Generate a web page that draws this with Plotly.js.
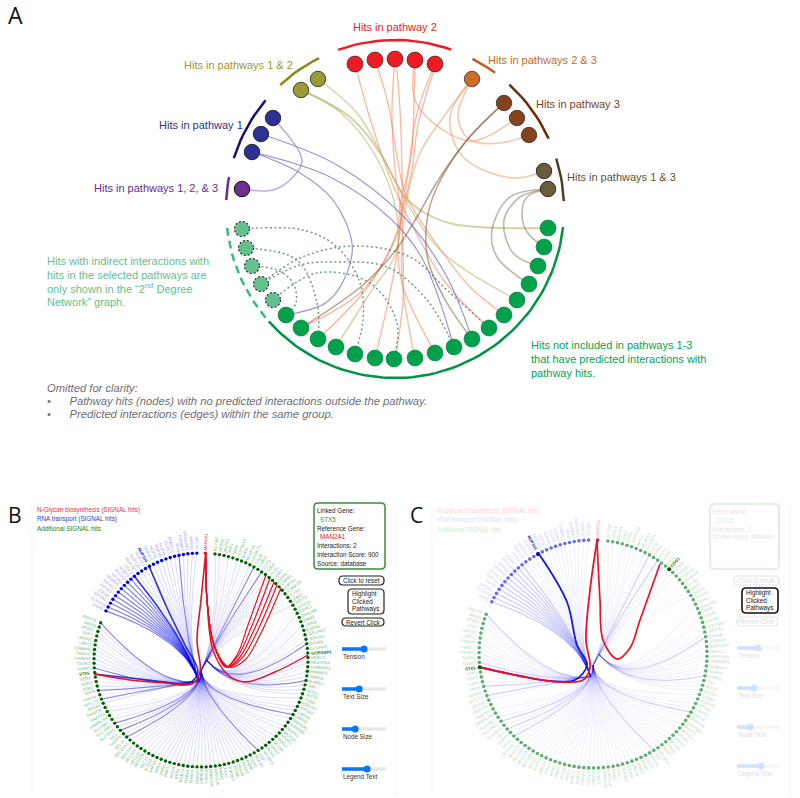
<!DOCTYPE html>
<html><head><meta charset="utf-8">
<script src="https://cdn.plot.ly/plotly-3.0.1.min.js"></script>
<style>html,body{margin:0;padding:0;background:#fff}#c{width:800px;height:798px}</style>
</head><body><div id="c"></div>
<script>
// ---------- Panel A : nodes ----------
const redNodes=[[355,64],[375,60],[395,59],[415,60],[435,64]];
const oliveNodes=[[301,90],[318,79]];
const blueNodes=[[273,118],[261,134],[252,152]];
const purpleNodes=[[242,189]];
const orangeNodes=[[472,79]];
const brownNodes=[[504,103],[517,118],[529,135]];
const tanNodes=[[544,171],[548,189]];
const greenNodes=[[548,228],[544,247],[538,266],[529,284],[517,300],[504,315],[489,328],[472,339],[454,347],[435,353],[415,358],[394,359],[375,358],[355,354],[336,347],[318,339],[301,328],[286,315]];
const lightNodes=[[273,300],[261,284],[252,266],[246,248],[242,229]];
// ---------- Panel A : edges, waypoints ----------
const orangeEdges=[
 [[355,64],[372,125],[395,190],[412,225],[445,282],[489,328]],
 [[375,60],[388,103],[396,150],[406,195],[443,253],[470,287],[504,315]],
 [[395,59],[392,110],[395,170],[401,215],[397,253],[390,293],[375,358]],
 [[396,59],[400,110],[402,170],[402,215],[403,300],[395,359]],
 [[415,60],[414,100],[412,150],[403,205],[398,253],[403,287],[435,353]],
 [[435,64],[417,113],[408,170],[400,205],[397,232],[363,290],[301,328]],
 [[436,64],[418,125],[412,170],[404,205],[396,237],[367,288],[318,339]],
 [[415,60],[415,100],[443,130],[473,141],[517,118]]
];
const peachEdges=[
 [[472,79],[445,115],[420,153],[406,205],[402,277],[415,358]],
 [[472,79],[458,117],[470,140],[500,143],[529,135]],
 [[472,79],[450,117],[463,157],[513,178],[544,171]]
];
const oliveEdges=[
 [[301,90],[350,117],[380,153],[405,197],[425,213],[453,224],[500,228],[548,228]],
 [[318,79],[357,113],[383,157],[408,205],[443,253],[517,300]],
 [[301,90],[340,112],[375,155],[396,210],[396,253],[370,293],[336,347]]
];
const blueEdges=[
 [[261,134],[337,165],[405,218],[447,277],[472,339]],
 [[252,152],[330,177],[392,220],[423,260],[454,347]],
 [[252,152],[300,173],[333,200],[352,243],[347,273],[327,302],[286,315]]
];
const brownEdges=[
 [[504,103],[467,140],[437,182],[417,217],[395,251],[363,285],[301,328]],
 [[504,103],[467,140],[437,187],[427,220],[428,260],[447,303],[472,339]]
];
const tanEdges=[
 [[548,189],[527,197],[522,215],[527,232],[544,247]],
 [[548,189],[520,197],[504,220],[513,253],[538,266]],
 [[548,189],[510,197],[492,230],[497,257],[529,284]]
];
const purpleEdges=[[[273,118],[302,160],[293,177],[273,190],[242,189]]];
const dottedEdges=[
 [[242,229],[303,230],[337,247],[360,283],[363,320],[355,354]],
 [[246,248],[297,260],[317,303],[318,339]],
 [[252,266],[277,270],[293,283],[296,303],[286,315]],
 [[261,284],[300,258],[353,246],[410,257],[447,290],[489,328]],
 [[273,300],[317,273],[370,283],[397,323],[394,359]],
 [[261,284],[300,265],[333,262],[387,267],[427,300],[454,347]]
];
// group arcs: bearing start, bearing end (deg clockwise from north), colour, dash
const arcCentre=[395,209];
const arcRadius=169;
const arcStart=[-19.7,27.3,42.6,72.6,96.1,230,273,287.5,317.2];
const arcEnd=[19.4,36.3,65.4,87.3,228.3,264.9,280.9,310,333.3];
const arcColor=['#ee1c25','#c25a1c','#6e2c0c','#4f3f22','#009444','#3dbb7f','#662d91','#10107f','#8b8b14'];
const arcDash=['solid','solid','solid','solid','solid','dash','solid','solid','solid'];

const labelsA=[
 ['Hits in pathway 2',352,27,'#ec1c24'],['Hits in pathways 1 & 2',183,65,'#9a9a2e'],
 ['Hits in pathway 1',158,125,'#2e3192'],['Hits in pathways 1, 2, & 3',93,188,'#662d91'],
 ['Hits in pathways 2 & 3',487,60,'#c9682a'],['Hits in pathway 3',535,104,'#7b3f1e'],
 ['Hits in pathways 1 & 3',566,177,'#5f5237'],
 ['Hits with indirect interactions with',46,261,'#5fbf8f'],['hits in the selected pathways are',46,275,'#5fbf8f'],
 ['only shown in the “2<sup>nd</sup> Degree',46,288,'#5fbf8f'],['Network” graph.',46,302,'#5fbf8f'],
 ['Hits not included in pathways 1-3',530,345,'#00a651'],['that have predicted interactions with',530,359,'#00a651'],
 ['pathway hits.',530,373,'#00a651']
];
const GAP='\u00a0\u00a0\u00a0\u00a0\u00a0\u00a0';
const notesA=[
 ['<i>Omitted for clarity:</i>',46,388,'#6d6e71'],
 ['•'+GAP+'<i>Pathway hits (nodes) with no predicted interactions outside the pathway.</i>',46,401,'#6d6e71'],
 ['•'+GAP+'<i>Predicted interactions (edges) within the same group.</i>',46,414,'#6d6e71']
];

// ---------- Panels B and C : genes ----------
const redGene=['MAN2A1'];
const blueGenes=['AAAS','CLNS1A','EIF2B1','EIF3A','EIF4A1','EIF4G1','GEMIN5','KPNB1','MAGOH','NCBP1','NDC1','NUP107','NUP133','NUP153','NUP155','NUP205','NUP62','NUP85','NUP88','NUP93','PABPC1','RAN','RANBP2','RANGAP1','RPP30','SEC13'];
const greenGenes=['ACTR2','AP2A1','ARCN1','ARF1','ATF6','ATP6V1A','BAG6','BCAP31','C1GALT1','CALR','CANX','CCT2','CD59','CLTC','COG1','COPA','COPB1','COPG1','CSNK2B','CTSA','DAD1','DDIT3','DDX3X','DERL1','DNAJB9','DNM2','DPM3','EDEM1','EIF2AK3','ERLIN1','GANAB','GOLPH3','GORASP2','HDAC1','HEATR5A','HNRNPA1','HNRNPU','HSPA5','HUWE1','IDE','INTS1','INTS3','ITGB1','KDELR1','KPNA2','LMAN1','LMAN2','MAN1A1','MAN1B1','MAPK1','MCFD2','MGAT1','MOGS','MTOR','NANS','NCK1','NPLOC4','NSF','NUCB1','OSTC','P4HB','PDIA3','PDIA4','PDIA6','PIK3R1','PLK1','PMM2','PPP1CA','PRKCSH','PSMC1','PSMD2','RAB1A','RAB2A','RAB5A','RAB7A','RER1','RHOA','RNF5','RPN1','RPN2','SAR1A','SCFD1','SEC13','SEC22B','SEC23A','SEC24A','SEC31A','SEC61A1','SEL1L','SERP1','SIL1','SLC35A1','SLC35B1','SLC39A7','SMARCA4','SNAP23','SNAP29','SPCS1','SPTLC1','SRP54','SRPR','SSR1','SSR3','SSR4','STX5','SUGP1','TAOK1','TGFBR2','TMED2','TOMM40','UBE2I','UBXN7','USP7','VPS53','WDR3','ZNHIT6'];
// edge strength per node, 0 faint .. 3 strong (blue listed from the top node anticlockwise)
const blueLevelB=[1,1,1,1,2,1,1,1,1,1,1,1,1,1,1,3,2,2,2,2,2,2,2,2,2,2];
const blueLevelC=[1,1,1,1,1,1,1,1,1,1,1,1,1,1,1,2,2,2,2,2,2,2,2,2,2,2];
const greenLevel=[1,1,0,1,0,1,1,0,1,2,0,2,1,1,1,1,1,0,0,0,0,1,0,1,0,0,1,0,0,1,2,0,1,1,1,0,1,1,2,1,1,1,1,0,1,1,2,1,0,1,1,0,1,1,1,1,1,2,1,1,1,1,1,1,1,1,1,1,1,1,1,1,1,1,1,1,1,1,1,1,1,1,1,1,1,1,1,1,2,1,2,1,2,1,0,1,0,1,2,0,2,1,0,1,0,2,1,1,1,1,1,0,1,1,1,2];
const alphaB=[0.07,0.15,0.5,0.8];
const alphaC=[0.03,0.07,0.2,0.8];
// spline waypoints of highlighted edges
const redToStxB=[[205.7,553],[201,600],[197,640],[200,672],[192,684],[165,683],[130,680],[94,674]];
const blueToStxB=[[149,566],[168,610],[185,645],[198,672],[188,684],[165,682],[130,678],[94,674]];
const redToRightB=[[205.7,553],[207,600],[213,650],[228,675],[245,682],[275,672],[308,655]];
const redBundleB=[
 [[205.7,553],[207,600],[214,645],[226,667],[237,655],[248,625],[266,575]],
 [[205.7,553],[207,600],[214,645],[226,667],[238,656],[251,628],[270,578]],
 [[205.7,553],[207,600],[214,645],[227,667],[240,657],[254,630],[274,582]],
 [[205.7,553],[207,600],[214,645],[228,667],[242,658],[257,632],[277,585]],
 [[205.7,553],[207,600],[214,645],[229,667],[245,660],[260,635],[281,588]]
];
const redToStxC=[[597,541],[590,590],[586,640],[590,668],[583,680],[560,682],[520,676],[479,667]];
const blueToStxC=[[539,554],[567,602],[577,645],[587,665],[575,680],[550,681],[520,676],[479,667]];
const redToCogC=[[597,541],[600,600],[603,640],[617,659],[630,648],[640,620],[660,564]];

const legendB=[['N-Glycan biosynthesis (SIGNAL hits)',36,510,'#e2324a'],['RNA transport (SIGNAL hits)',36,519,'#3a3ad0'],['Additional SIGNAL hits',36,528,'#1d7d2f']];
const legendC=[['N-Glycan biosynthesis (SIGNAL hits)',436,511,'#fbd3d6'],['RNA transport (SIGNAL hits)',436,520,'#e0e0f9'],['Additional SIGNAL hits',436,529,'#d5ebd8']];
const infoB=[['Linked Gene:',316,510,'#222'],['STX5',319,519,'#2f9a3f'],['Reference Gene:',316,528,'#222'],['MAN2A1',319,536,'#d9202e'],['Interactions: 2',316,545,'#222'],['Interaction Score: 900',316,554,'#222'],['Source: database',316,563,'#222']];
const infoC=[['Gene Name:',711,511,'#e3e8e3'],['COG1',715,520,'#d5ebd8'],['Interactions: 1',711,529,'#e3e8e3'],['Screen Input: Medium',711,537,'#e3e8e3']];
const buttonText=[
 ['Click to reset',361.5,580.5,'#222',1],['Highlight',351,594,'#222',0],['Clicked',351,601.5,'#222',0],['Pathways',351,609,'#222',0],['Revert Click',363,622,'#222',1],
 ['Click to reset',756.5,580.5,'#dcdcdc',1],['Highlight',745,593,'#111',0],['Clicked',745,600.5,'#111',0],['Pathways',745,608,'#111',0],['Revert Click',757.5,621.5,'#dcdcdc',1]];
const buttonBoxes=[[339,576,384,585,'#222',1.2],[348,589,384,614,'#222',1.2],[342,618,384,626,'#222',1.2],
 [734,576,779,585,'#e6e6e6',1.2],[742,588,778,613,'#111',1.6],[737,617,778,626,'#e6e6e6',1.2],
 [314,503,385,569,'#3a8a3a',1.5],[710,504,779,569,'#d9ecd9',1.5]];
const sliderNames=['Tension','Text Size','Node Size','Legend Text'];
const sliderB=[0.5,0.39,0.3,0.57];
const sliderBy=[649,689,729,769];
const sliderC=[0.49,0.40,0.30,0.56];
const sliderCy=[648,688,727,766];

// ---------- drawing ----------
const traces=[],anns=[],shapes=[];
const FONT='Liberation Sans, Arial, sans-serif';
function line(pts,color,width,dash,spline){
 traces.push({type:'scatter',mode:'lines',x:pts.map(p=>p[0]),y:pts.map(p=>p[1]),hoverinfo:'skip',
  line:{color:color,width:width,dash:dash||'solid',shape:spline?'spline':'linear',smoothing:1}});
}
function nodes(pts,color,size,lc,lw){
 traces.push({type:'scatter',mode:'markers',x:pts.map(p=>p[0]),y:pts.map(p=>p[1]),hoverinfo:'skip',
  marker:{color:color,size:size,line:{color:lc||color,width:lw===undefined?0.7:lw}}});
}
function text(t,x,y,size,color,o){
 anns.push(Object.assign({text:t,x:x,y:y,xref:'x',yref:'y',showarrow:false,xanchor:'left',yanchor:'middle',borderpad:0,
  font:{family:FONT,size:size,color:color}},o||{}));
}
// panel A
orangeEdges.forEach(e=>line(e,'rgba(246,125,85,0.55)',1.3,null,true));
peachEdges.forEach(e=>line(e,'rgba(230,160,115,0.55)',1.7,null,true));
oliveEdges.forEach((e,i)=>line(e,'rgba(185,180,110,0.6)',i==0?2:1.4,null,true));
blueEdges.forEach(e=>line(e,'rgba(120,115,200,0.75)',1.2,null,true));
brownEdges.forEach(e=>line(e,'rgba(130,85,55,0.55)',1.5,null,true));
tanEdges.forEach(e=>line(e,'rgba(140,125,105,0.55)',1.6,null,true));
purpleEdges.forEach(e=>line(e,'rgba(150,120,185,0.6)',1.6,null,true));
dottedEdges.forEach(e=>line(e,'rgba(95,135,110,0.85)',1.5,'2px,2.6px',true));
arcStart.forEach((s,i)=>{
 const pts=[],n=Math.max(6,Math.round((arcEnd[i]-s)/2));
 for(let k=0;k<=n;k++){const a=(s+(arcEnd[i]-s)*k/n)*Math.PI/180;pts.push([arcCentre[0]+arcRadius*Math.sin(a),arcCentre[1]-arcRadius*Math.cos(a)]);}
 line(pts,arcColor[i],2.5,arcDash[i]=='dash'?'8px,5px':'solid');
});
nodes(redNodes,'#ed1c24',16,'#1a1a1a',0.6);
nodes(oliveNodes,'#9c9a35',15.5,'#222',0.8);
nodes(blueNodes,'#2e3192',15.5,'#111',0.8);
nodes(purpleNodes,'#6f2f91',15.5,'#111',1);
nodes(orangeNodes,'#cc6c28',15.5,'#222',0.7);
nodes(brownNodes,'#84431c',15.5,'#222',0.7);
nodes(tanNodes,'#6b5c3e',15.5,'#111',0.8);
nodes(greenNodes,'#00a14b',16,'#067a3a',0.6);
nodes(lightNodes,'#65c08f',15,'#65c08f',0);
lightNodes.forEach(p=>shapes.push({type:'circle',xref:'x',yref:'y',x0:p[0]-7.5,x1:p[0]+7.5,y0:p[1]-7.5,y1:p[1]+7.5,line:{color:'#222',width:1.1,dash:'2px,2px'},layer:'above'}));
labelsA.forEach(l=>text(l[0],l[1],l[2],11,l[3]));
notesA.forEach(l=>text(l[0],l[1],l[2],11.2,l[3]));
text('A',7,15,23,'#111',{font:{family:'Open Sans, sans-serif',size:23,color:'#111'}});
text('B',7,515,21,'#111',{font:{family:'Open Sans, sans-serif',size:21,color:'#111'}});
text('C',409,515,21,'#111',{font:{family:'Open Sans, sans-serif',size:21,color:'#111'}});

// panels B and C
function pol(P,b,r){const a=b*Math.PI/180;return [P.cx+(r||P.r)*Math.sin(a),P.cy-(r||P.r)*Math.cos(a)];}
function quad(a,b,c){const o=[];for(let i=0;i<=16;i++){const t=i/16,u=1-t;o.push([u*u*a[0]+2*u*t*b[0]+t*t*c[0],u*u*a[1]+2*u*t*b[1]+t*t*c[1]]);}return o;}
const bBlue=j=>-2.2-2.42*j, bGreen=i=>7.5+2.46*i, bRed=2.3;
function fanStart(P,b){
 const S=(x,y)=>[P.cx+x*P.r,P.cy+y*P.r];
 if(b<60) return [S(0.0,0.1),S(0.15,-0.2)];
 if(b<110) return [S(0.05,0.0),S(0.32,0.33)];
 if(b<245) return [S(0.0,0.1),S(0.02,0.36)];
 return [S(-0.03,0.2),S(-0.4,0.26)];
}
function radial(P,b,name,color,size,bold){
 const len=name.length*(bold?2.9:2.5), r=P.r+4+len/2, p=pol(P,b,r);
 let nb=((b%360)+360)%360;
 const ang=nb<180?nb-90:nb+90;
 text(bold?'<b>'+name+'</b>':name,p[0],p[1],size,color,{xanchor:'center',textangle:ang});
}
function panel(P){
 P.blueLevel.forEach((lv,j)=>{
  const b=bBlue(j),n=pol(P,b);
  line(quad(n,[P.cx-0.15*P.r,P.cy-0.2*P.r],[P.cx-0.02*P.r,P.cy+0.2*P.r]),'rgba(0,0,235,'+P.alpha[lv]+')',lv>=3?1.6:(lv==2?1.2:1));
 });
 greenLevel.forEach((lv,i)=>{
  const b=bGreen(i),n=pol(P,b),f=fanStart(P,b);
  line(quad(f[0],f[1],n),'rgba(30,20,220,'+P.alpha[lv]+')',lv==2?1.2:1);
 });
 P.curves.forEach(c=>line(c[0],c[1],c[2],null,true));
 nodes(greenGenes.map((g,i)=>pol(P,bGreen(i))),P.green,P.size,P.green,0);
 nodes(blueGenes.map((g,j)=>pol(P,bBlue(j))),P.blue,P.size,P.blue,0);
 nodes([pol(P,bRed)],P.red,P.size,P.red,0);
 P.extra.forEach(e=>nodes([e[0]],e[1],P.size+0.5,e[1],0));
 greenGenes.forEach((g,i)=>{const h=P.boldGreen.includes(g);radial(P,bGreen(i),g,h?'#0b7a22':P.gLabel,4.2,h);});
 blueGenes.slice().reverse().forEach((g,j)=>{const h=j==11;radial(P,bBlue(j),g,h?'#1c1cb4':P.bLabel,4.2,h);});
 radial(P,bRed,redGene[0],P.rLabel,4.2,false);
}
panel({cx:201,cy:660,r:107,alpha:alphaB,blueLevel:blueLevelB,green:'#006400',blue:'#0000e0',red:'#d81030',size:3.4,
 gLabel:'#74b97f',bLabel:'#a5a5ec',rLabel:'#d8324a',boldGreen:['STX5','GORASP2'],
 curves:[[blueToStxB,'rgba(20,20,190,0.85)',1.7]].concat(redBundleB.map(c=>[c,'#ee1020',1.2]),[[redToRightB,'#e8102a',1.4],[redToStxB,'#e01030',1.6]]),
 extra:[]});
panel({cx:593,cy:654,r:114,alpha:alphaC,blueLevel:blueLevelC,green:'#62ad70',blue:'#6a6af2',red:'#e8102a',size:3.6,
 gLabel:'#b5dabc',bLabel:'#cdcdf6',rLabel:'#f09aa5',boldGreen:['STX5','COG1'],
 curves:[[blueToStxC,'#1414e8',1.8],[redToCogC,'#f01020',1.7],[redToStxC,'#f01028',1.8]],
 extra:[[pol({cx:593,cy:654,r:114},bBlue(11)),'#0000c8'],[pol({cx:593,cy:654,r:114},bGreen(14)),'#006400'],[pol({cx:593,cy:654,r:114},bGreen(104)),'#006400']]});
legendB.concat(legendC,infoB,infoC).forEach(l=>text(l[0],l[1],l[2],6.3,l[3]));
buttonText.forEach(l=>text(l[0],l[1],l[2],6.3,l[3],{xanchor:l[4]?'center':'left'}));
buttonBoxes.forEach(b=>{const r=Math.min(4,(b[3]-b[1])/2),[x0,y0,x1,y1]=[b[0],b[1],b[2],b[3]];
 shapes.push({type:'path',xref:'x',yref:'y',line:{color:b[4],width:b[5]},
  path:`M${x0+r},${y0}L${x1-r},${y0}Q${x1},${y0} ${x1},${y0+r}L${x1},${y1-r}Q${x1},${y1} ${x1-r},${y1}L${x0+r},${y1}Q${x0},${y1} ${x0},${y1-r}L${x0},${y0+r}Q${x0},${y0} ${x0+r},${y0}Z`});});
function sliders(vals,ys,x0,x1,fill,rest,labelColor){
 vals.forEach((v,i)=>{const hx=x0+(x1-x0)*v;
  line([[x0,ys[i]],[x1,ys[i]]],rest,3.5);
  line([[x0,ys[i]],[hx,ys[i]]],fill,3.5);
  nodes([[hx,ys[i]]],fill,7,fill,0);
  text(sliderNames[i],x0,ys[i]+7.5,6.3,labelColor);
 });
}
sliders(sliderB,sliderBy,342,386,'#0a75f5','#e8e8e8','#333');
sliders(sliderC,sliderCy,737,780,'#cfe2fd','#f6f6f6','#dedede');
// faint panel edges
[[32,503,32,796],[395,508,395,796],[432,503,432,796],[790,503,790,796]].forEach(s=>shapes.push({type:'line',xref:'x',yref:'y',x0:s[0],y0:s[1],x1:s[2],y1:s[3],line:{color:'#f6f6f6',width:1}}));

Plotly.newPlot('c',traces,{width:800,height:798,margin:{l:0,r:0,t:0,b:0},showlegend:false,
 paper_bgcolor:'#fff',plot_bgcolor:'#fff',
 xaxis:{visible:false,range:[0,800],fixedrange:true},
 yaxis:{visible:false,range:[798,0],fixedrange:true},
 annotations:anns,shapes:shapes},{staticPlot:true,displayModeBar:false});
</script></body></html>
